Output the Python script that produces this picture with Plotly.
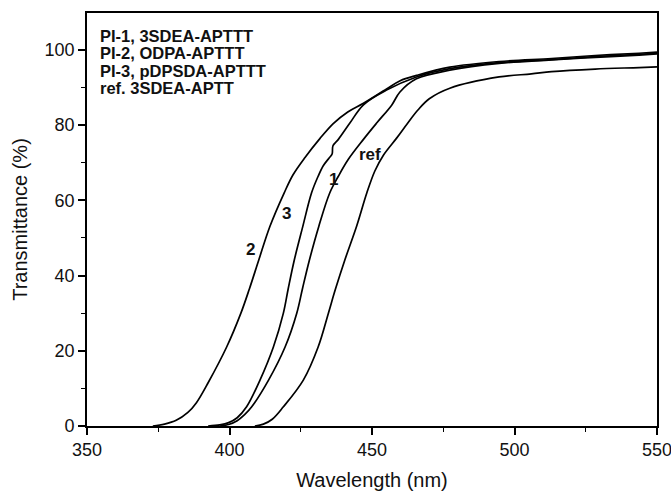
import plotly.graph_objects as go

# Curve PI-2 (label "2")
wl_2 = [373.1, 377.2, 381.3, 385.4, 388.4, 392.5, 399.0, 404.0, 407.0, 410.3, 414.2, 419.2, 422.3, 426.5, 431.7, 436.4, 441.5, 447.0, 455.1, 459.9, 465.6, 477.3, 494.6, 513.0, 528.3, 543.7, 550]
t_2 = [0, 0.5, 1.5, 3.6, 6.2, 11.5, 21, 30, 36.5, 44.2, 53.1, 62, 66.8, 71.4, 76.4, 80.4, 83.5, 85.8, 89.6, 91.8, 93.2, 95.4, 96.9, 97.7, 98.5, 99.1, 99.4]

# Curve PI-3 (label "3")
wl_3 = [392.5, 396.6, 399.7, 402.7, 406.0, 410.7, 415.4, 418.9, 420.6, 422.7, 425.7, 428.8, 431.1, 432.9, 434.9, 436.0, 436.3, 438.2, 442.3, 447.0, 455.1, 465.6, 477.3, 494.6, 513.0, 528.3, 543.7, 550]
t_3 = [0, 0.3, 0.9, 2.2, 5.1, 12.2, 21, 30, 36.5, 44, 53, 62, 66.4, 69.2, 71.2, 72.3, 74.5, 76.2, 80.6, 85.4, 89.3, 92.8, 95.0, 96.6, 97.4, 98.2, 98.8, 99.1]

# Curve PI-1 (label "1")
wl_1 = [396.6, 399.7, 402.7, 405.3, 407.8, 413.7, 419.5, 423.6, 425.6, 428.0, 431.3, 435.2, 438.2, 441.7, 447.0, 451.7, 456.9, 459.8, 465.6, 477.3, 494.6, 513.0, 528.3, 543.7, 550]
t_1 = [0, 0.4, 1.4, 3.0, 5.1, 12.2, 21, 30, 36.5, 44, 53, 62, 66.4, 70.9, 76.2, 80.6, 85.3, 88.8, 92.3, 94.6, 96.4, 97.3, 98.0, 98.6, 98.9]

# Reference 3SDEA-APTT (label "ref")
wl_ref = [408.9, 411.9, 415.0, 418.9, 425.9, 431.1, 434.7, 437.1, 440.5, 444.6, 448.2, 451.0, 454.0, 458.7, 462.5, 466.1, 470.1, 477.3, 494.6, 505.9, 513.0, 528.3, 543.7, 550]
t_ref = [0, 0.5, 1.8, 5.1, 12.2, 21, 30, 36.2, 44.2, 53.1, 62, 67.8, 72.0, 76.6, 80.5, 84, 87, 89.8, 92.8, 93.6, 94.2, 94.9, 95.3, 95.5]

legend_lines = ["PI-1, 3SDEA-APTTT", "PI-2, ODPA-APTTT", "PI-3, pDPSDA-APTTT", "ref. 3SDEA-APTT"]
curve_labels = ["2", "3", "1", "ref"]
label_wl = [407.4, 420.1, 436.4, 449.3]
label_t = [46.9, 56.6, 65.5, 72.2]

x_ticks = [350, 400, 450, 500, 550]
y_ticks = [0, 20, 40, 60, 80, 100]

FONT = "Liberation Sans, Arial, Helvetica"
PLOT_L, PLOT_R, PLOT_T, PLOT_B = 87, 657, 13, 426

fig = go.Figure()
for wl, t in [(wl_2, t_2), (wl_3, t_3), (wl_1, t_1), (wl_ref, t_ref)]:
    fig.add_trace(go.Scatter(x=wl, y=t, mode="lines",
                             line=dict(color="black", width=1.7, shape="spline", smoothing=1.0),
                             showlegend=False, hoverinfo="skip"))

for lab, lx, ly in zip(curve_labels, label_wl, label_t):
    fig.add_annotation(x=lx, y=ly, xref="x", yref="y", text="<b>" + lab + "</b>",
                       showarrow=False, font=dict(family=FONT, size=17, color="#111"))

for i, line in enumerate(legend_lines):
    py = 35.5 + i * 17.5
    fig.add_annotation(x=(98 - PLOT_L) / (PLOT_R - PLOT_L),
                       y=(PLOT_B - py) / (PLOT_B - PLOT_T),
                       xref="paper", yref="paper",
                       xanchor="left", yanchor="middle", text="<b>" + line + "</b>",
                       showarrow=False, font=dict(family=FONT, size=16.5, color="#111"))

axis_font = dict(family=FONT, size=18, color="#111")
title_font = dict(family=FONT, size=20, color="#111")
fig.update_layout(
    width=671, height=491,
    margin=dict(l=PLOT_L, r=671 - PLOT_R, t=PLOT_T, b=491 - PLOT_B),
    paper_bgcolor="white", plot_bgcolor="white",
    xaxis=dict(range=[350, 550], tickvals=x_ticks, ticks="outside", ticklen=7, tickwidth=1.5,
               tickcolor="black", showline=True, linecolor="black", linewidth=1.6, mirror=True,
               showgrid=False, zeroline=False, tickfont=axis_font, ticklabeloverflow="allow",
               automargin=False,
               minor=dict(dtick=25, tick0=350, ticks="outside", ticklen=4, tickwidth=1.3, tickcolor="black"),
               title=dict(text="Wavelength (nm)", font=title_font, standoff=14)),
    yaxis=dict(range=[0, 109.8], tickvals=y_ticks, ticks="outside", ticklen=7, tickwidth=1.5,
               tickcolor="black", showline=True, linecolor="black", linewidth=1.6, mirror=True,
               showgrid=False, zeroline=False, tickfont=axis_font, automargin=False,
               minor=dict(dtick=10, tick0=0, ticks="outside", ticklen=4, tickwidth=1.3, tickcolor="black"),
               title=dict(text="Transmittance (%)", font=title_font, standoff=12)),
)

fig.write_html("out.html")
